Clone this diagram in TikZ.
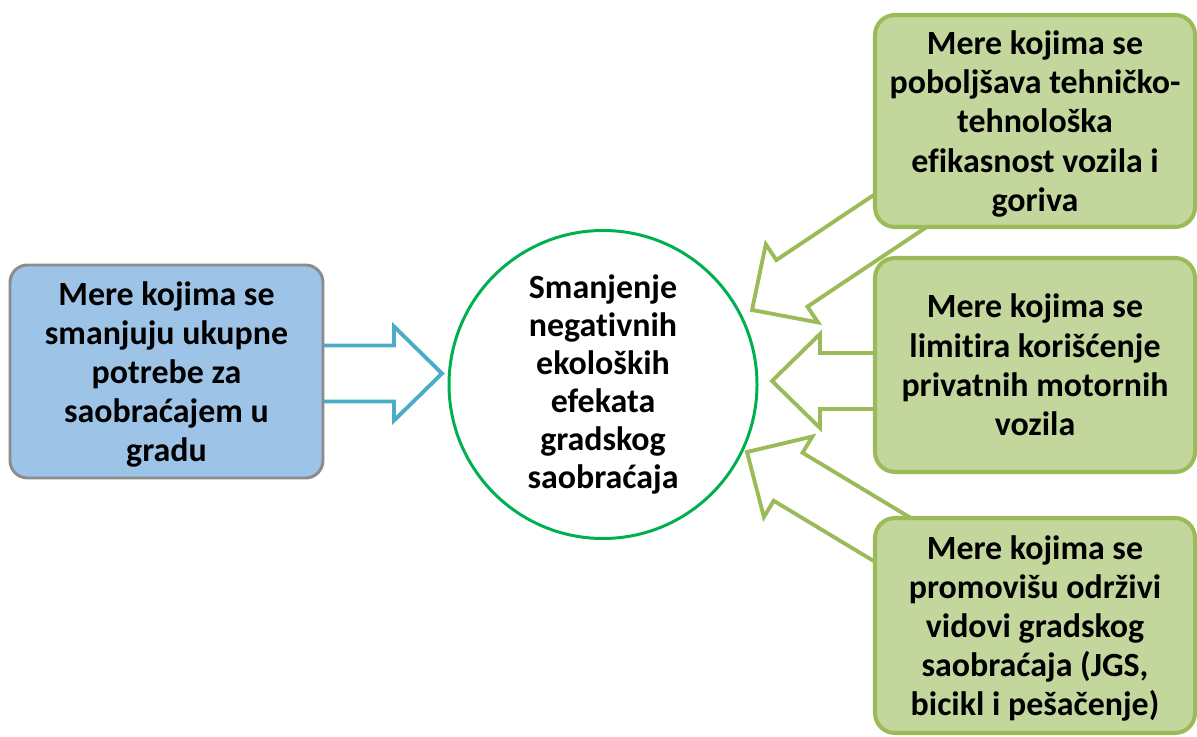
\documentclass[tikz,border=0pt]{standalone}
\usepackage{fontspec}
\setmainfont{Carlito}[Ligatures={NoCommon}]
\usetikzlibrary{calc, backgrounds}
\definecolor{meraPlava}{RGB}{157,195,230}
\definecolor{meraSiva}{RGB}{140,140,140}
\definecolor{strelicaPlava}{RGB}{75,172,198}
\definecolor{meraZelena}{RGB}{195,214,155}
\definecolor{okvirZelena}{RGB}{155,187,89}
\definecolor{ciljZelena}{RGB}{0,176,80}

\newcommand{\blokstrelica}[3]{%
  \path (#2) coordinate (p) (#3) coordinate (v) ($(v)!0.96cm!(p)$) coordinate (g);
  \draw[line width=2.2pt, draw=#1, fill=white]
    ($(p)!0.56cm!90:(v)$) -- ($(g)!0.56cm!90:(v)$) -- ($(g)!0.94cm!90:(v)$) -- (v)
    -- ($(g)!0.94cm!-90:(v)$) -- ($(g)!0.56cm!-90:(v)$) -- ($(p)!0.56cm!-90:(v)$) -- cycle;
}

\begin{document}
\begin{tikzpicture}[
        mera/.style={rectangle, rounded corners=0.4cm, draw=okvirZelena, line width=2.3pt, fill=meraZelena, minimum width=6.4cm, minimum height=4.26cm, align=center, font=\bfseries\fontsize{19.3}{22.3}\selectfont},
        cilj/.style={circle, draw=ciljZelena, line width=1.7pt, fill=white, minimum size=6.16cm, inner sep=0pt, align=center, font=\bfseries\fontsize{19.3}{21.6}\selectfont}]

        \useasboundingbox (0,0) rectangle (23.94,14.72);

        \node[mera, fill=meraPlava, draw=meraSiva, line width=1.7pt, rounded corners=0.35cm, minimum width=6.26cm, text depth=-5pt] (m0) at (3.33,7.29) {Mere kojima se\\smanjuju ukupne\\potrebe za\\saobraćajem u\\gradu};
        \node[cilj] (cilj) at (12.06,7.03) {Smanjenje\\negativnih\\ekoloških\\efekata\\gradskog\\saobraćaja};
        \node[mera, minimum height=4.24cm, text depth=-9.5pt] (m1) at (20.7,12.3) {Mere kojima se\\poboljšava tehničko-\\tehnološka\\efikasnost vozila i\\goriva};
        \node[mera, minimum height=4.28cm] (m2) at (20.7,7.42) {Mere kojima se\\limitira korišćenje\\privatnih motornih\\vozila};
        \node[mera, minimum height=4.3cm, text depth=-4pt] (m3) at (20.7,2.21) {Mere kojima se\\promovišu održivi\\vidovi gradskog\\saobraćaja (JGS,\\bicikl i pešačenje)};

        \coordinate (v0) at (8.84,7.25);
        \coordinate (v1) at (15.04,8.52);
        \coordinate (v2) at (15.44,7.10);
        \coordinate (v3) at (14.94,5.68);

        \begin{scope}[on background layer]
            \blokstrelica{strelicaPlava}{m0.center |- v0}{v0}
            \blokstrelica{okvirZelena}{m1.center}{v1}
            \blokstrelica{okvirZelena}{m2.center |- v2}{v2}
            \blokstrelica{okvirZelena}{m3.center}{v3}
        \end{scope}
    \end{tikzpicture}
\end{document}
